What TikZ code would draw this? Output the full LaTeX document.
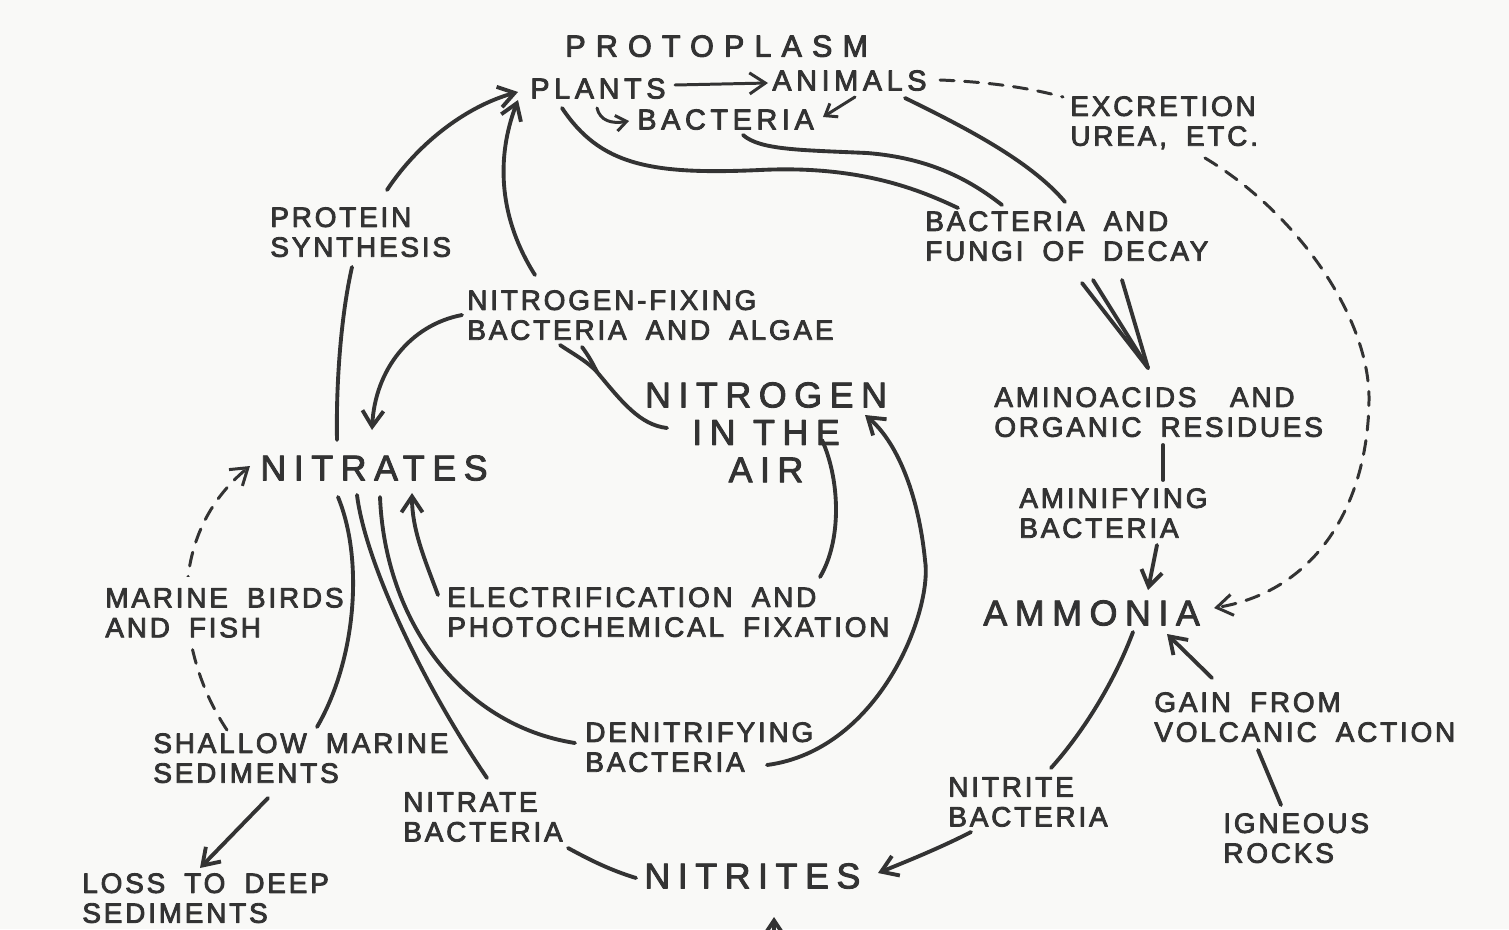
\documentclass[tikz,border=0pt]{standalone}
\usepackage{fontspec}
\usepackage{tikz}
\usetikzlibrary{arrows.meta,calc}
\usepackage{xcolor}
\definecolor{ink}{HTML}{333333}
\definecolor{paper}{HTML}{F9F9F7}
\newfontfamily\labelfont[LetterSpace=10, WordSpace=1.8, FakeBold=3]{Liberation Sans}
\newfontfamily\organismfont[LetterSpace=16, FakeBold=3]{Liberation Sans}
\newfontfamily\poolfont[LetterSpace=21, FakeBold=2.5]{Liberation Sans}
\newfontfamily\headingfont[LetterSpace=33, FakeBold=3]{Liberation Sans}

\begin{document}
\begin{tikzpicture}[x=0.2mm, y=-0.2mm, line cap=round, line join=round, color=ink,
    lbl/.style={inner sep=0pt, anchor=north west, align=left, font=\labelfont\fontsize{15.9}{17}\selectfont},
    organism/.style={inner sep=0pt, anchor=north west, font=\organismfont\fontsize{16.4}{17}\selectfont},
    pool/.style={inner sep=0pt, anchor=north west, font=\poolfont\fontsize{20.4}{21.3}\selectfont},
    heading/.style={inner sep=0pt, anchor=north west, font=\headingfont\fontsize{17.4}{18}\selectfont},
    flow/.style={line width=2.2pt},
    thin/.style={line width=1.7pt},
    arr/.style={flow, -{Straight Barb[length=9pt,width=12pt]}},
    smallarr/.style={thin, -{Straight Barb[length=6pt,width=9pt]}},
    dashedline/.style={line width=1.7pt, dash pattern=on 8pt off 6pt}]
  \path[fill=paper] (0,0) rectangle (1509,929);
  \clip (0,0) rectangle (1509,929);

  \node[heading] (proto) at (565,35) {PROTOPLASM};
  \node[organism] (plants) at (530,78) {PLANTS};
  \node[organism] (animals) at (772,70) {ANIMALS};
  \node[organism] (bact) at (637,109) {BACTERIA};
  \node[lbl] (excr) at (1070,96) {EXCRETION\\UREA, ETC.};
  \node[lbl] (decay) at (925,211) {BACTERIA AND\\FUNGI OF DECAY};
  \node[lbl] (protein) at (270,207) {PROTEIN\\SYNTHESIS};
  \node[lbl] (fixing) at (467,290) {NITROGEN-FIXING\\BACTERIA AND ALGAE};
  \node[pool, anchor=north, align=center] (air) at (766,382) {NITROGEN\\IN THE\\AIR};
  \node[lbl] (amino) at (994,387) {AMINOACIDS\hspace{1.2em}AND\\ORGANIC RESIDUES};
  \node[lbl] (aminif) at (1019,488) {AMINIFYING\\BACTERIA};
  \node[pool] (ammonia) at (983,600) {AMMONIA};
  \node[pool] (nitrates) at (260,455) {NITRATES};
  \node[lbl] (elec) at (447,587) {ELECTRIFICATION AND\\PHOTOCHEMICAL FIXATION};
  \node[lbl] (shallow) at (153,733) {SHALLOW MARINE\\SEDIMENTS};
  \node[lbl] (denit) at (585,722) {DENITRIFYING\\BACTERIA};
  \node[lbl] (natbact) at (403,792) {NITRATE\\BACTERIA};
  \node[lbl] (loss) at (82,873) {LOSS TO DEEP\\SEDIMENTS};
  \node[pool] (nitrites) at (644,863) {NITRITES};
  \node[lbl] (nitbact) at (948,777) {NITRITE\\BACTERIA};
  \node[lbl] (gain) at (1154,692) {GAIN FROM\\VOLCANIC ACTION};
  \node[lbl] (igneous) at (1223,813) {IGNEOUS\\ROCKS};
  \coordinate (fork) at (597,372);
  \coordinate (below) at (774,990);

  \draw[arr, thin] ($(plants.north west)+(145,7)$) -- ($(animals.north west)+(-4,13)$);
  \draw[smallarr] ($(plants.north west)+(67,30)$) .. controls (600,121) and (612,124) .. ($(bact.north west)+(-8,12)$);
  \draw[smallarr] ($(animals.north west)+(83,27)$) -- ($(bact.north west)+(186,8)$);
  \draw[dashedline] ($(animals.north west)+(168,10)$) .. controls (990,82) and (1030,88) .. ($(excr.north west)+(-7,1)$);
  \draw[dashedline, -{Straight Barb[length=9pt,width=12pt]}] ($(excr.north west)+(135,62)$) .. controls (1300,215) and (1370,320) .. (1369,400)
    .. controls (1368,500) and (1320,590) .. ($(ammonia.north west)+(231,8)$);

  \draw[flow] ($(plants.north west)+(32,30)$) .. controls (600,165) and (650,175) .. (760,170)
    .. controls (860,165) and (920,190) .. ($(decay.north west)+(33,-3)$);
  \draw[flow] ($(bact.north west)+(106,26)$) .. controls (760,150) and (800,150) .. (867,153)
    .. controls (930,158) and (970,180) .. ($(decay.north west)+(77,-6)$);
  \draw[flow] ($(animals.north west)+(133,28)$) .. controls (960,125) and (1030,160) .. ($(decay.north west)+(140,-9)$);
  \foreach \dx/\dy in {157/72, 168/69, 197/69}
    \draw[flow] ($(decay.north west)+(\dx,\dy)$) -- ($(amino.north west)+(154,-19)$);

  \draw[flow] ($(amino.north west)+(169,58)$) -- ($(aminif.north west)+(144,-8)$);
  \draw[arr] ($(aminif.north west)+(138,57)$) -- ($(ammonia.north west)+(165,-10)$);
  \draw[flow] ($(ammonia.north west)+(150,32)$) .. controls (1115,680) and (1085,730) .. ($(nitbact.north west)+(103,-9)$);
  \draw[arr] ($(nitbact.north west)+(23,55)$) .. controls (940,848) and (905,862) .. ($(nitrites.north west)+(234,10)$);
  \draw[arr] ($(gain.north west)+(58,-14)$) -- ($(ammonia.north west)+(184,34)$);
  \draw[flow] ($(igneous.north west)+(58,-8)$) -- ($(gain.north west)+(104,58)$);
  \draw[arr] (below) -- ($(nitrites.north west)+(130,54)$);

  \draw[flow] ($(nitrites.north west)+(-8,15)$) .. controls (610,870) and (590,860) .. ($(natbact.north west)+(165,56)$);
  \draw[flow] ($(natbact.north west)+(84,-14)$) .. controls (420,680) and (365,560) .. ($(nitrates.north west)+(97,40)$);
  \draw[flow] ($(denit.north west)+(-10,21)$) .. controls (460,725) and (385,620) .. ($(nitrates.north west)+(120,42)$);
  \draw[arr] ($(elec.north west)+(-9,8)$) .. controls (425,560) and (412,530) .. ($(nitrates.north west)+(152,38)$);
  \draw[arr] ($(shallow.north west)+(115,65)$) -- ($(loss.north west)+(118,-5)$);

  \draw[arr] ($(fixing.north west)+(-5,25)$) .. controls (410,325) and (375,370) .. ($(nitrates.north west)+(112,-25)$);
  \draw[arr] ($(fixing.north west)+(68,-15)$) .. controls (500,220) and (495,160) .. ($(plants.north west)+(-12,22)$);
  \draw[arr] ($(protein.north west)+(117,-17)$) .. controls (420,140) and (470,105) .. ($(plants.north west)+(-12,14)$);
  \draw[flow] ($(protein.north west)+(82,60)$) .. controls (340,320) and (336,390) .. ($(nitrates.north west)+(77,-15)$);
  \draw[flow] ($(fixing.north west)+(93,55)$) .. controls (575,355) and (588,362) .. (fork);
  \draw[flow] ($(fixing.north west)+(115,57)$) .. controls (588,355) and (592,362) .. (fork);
  \draw[flow] (fork) .. controls (622,402) and (640,425) .. ($(air.north)+(-99,46)$);
  \draw[flow] ($(air.north)+(56,58)$) .. controls (840,480) and (842,540) .. ($(elec.north west)+(373,-10)$);
  \draw[arr] ($(denit.north west)+(182,43)$) .. controls (880,750) and (933,610) .. (925,560)
    .. controls (918,490) and (895,440) .. ($(air.north)+(99,33)$);

  \draw[dashedline, -{Straight Barb[length=9pt,width=12pt]}] ($(shallow.north west)+(74,-3)$) .. controls (180,660) and (160,540) .. ($(nitrates.north west)+(-10,11)$);
  \node[lbl, fill=paper, inner ysep=6pt] (birds) at (105,577) {MARINE BIRDS\\AND FISH};
  \draw[flow] ($(shallow.north west)+(164,-6)$) .. controls (356,660) and (364,560) .. ($(nitrates.north west)+(78,42)$);
\end{tikzpicture}
\end{document}
